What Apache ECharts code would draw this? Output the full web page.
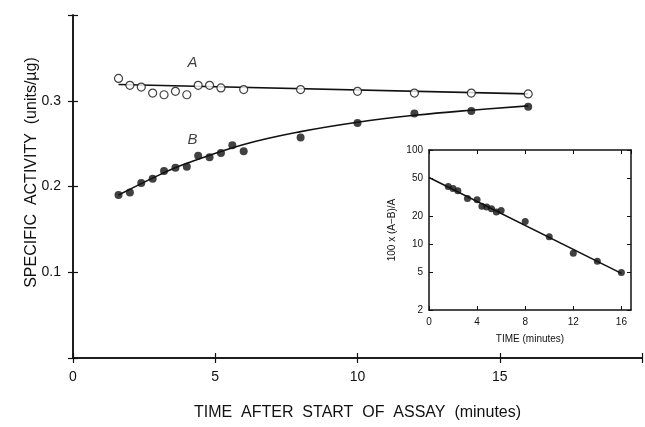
<!DOCTYPE html>
<html>
<head>
<meta charset="utf-8">
<script src="https://cdn.jsdelivr.net/npm/echarts@6/dist/echarts.min.js"></script>
<style>
  html, body { margin: 0; padding: 0; background: #fff; }
  #chart { width: 645px; height: 427px; }
</style>
</head>
<body>
<div id="chart"></div>
<script>
// main plot: specific activity (units/ug) vs time (min)
const timeA = [1.6, 2.0, 2.4, 2.8, 3.2, 3.6, 4.0, 4.4, 4.8, 5.2, 6.0, 8, 10, 12, 14, 16];
const activityA = [0.326, 0.318, 0.316, 0.309, 0.307, 0.311, 0.307, 0.318, 0.318, 0.315, 0.313, 0.313, 0.311, 0.309, 0.309, 0.308];
const timeB = [1.6, 2.0, 2.4, 2.8, 3.2, 3.6, 4.0, 4.4, 4.8, 5.2, 5.6, 6.0, 8, 10, 12, 14, 16];
const activityB = [0.190, 0.193, 0.204, 0.209, 0.218, 0.222, 0.223, 0.236, 0.234, 0.239, 0.248, 0.241, 0.257, 0.274, 0.285, 0.288, 0.293];

// drawn fit curves
const fitTimeA = [1.6, 16];
const fitA = [0.319, 0.308];
const fitTimeB = [1.6, 3, 4, 6, 8, 10, 12, 14, 16];
const fitB = [0.190, 0.213, 0.227, 0.249, 0.264, 0.275, 0.283, 0.289, 0.294];

// curve names
const curveNames = ["A", "B"];
const curveNameTime = [4.2, 4.2];
const curveNameY = [0.344, 0.255];

// inset: 100 x (A-B)/A, log scale
const insetTime = [1.6, 2.0, 2.4, 3.2, 4.0, 4.4, 4.8, 5.2, 5.6, 6.0, 8, 10, 12, 14, 16];
const insetPct = [41, 39, 37, 30.5, 29.7, 25.2, 24.8, 23.8, 21.9, 22.8, 17.4, 12, 8, 6.6, 5];
const insetFitTime = [0, 16];
const insetFit = [51, 4.9];
const insetYTicks = [2, 5, 10, 20, 50, 100];

const zip = (xs, ys) => xs.map((x, i) => [x, ys[i]]);

const FONT = "Liberation Sans";
const INK = "#111";
const line = { lineStyle: { color: INK, width: 1.5 } };
const mainTick = { inside: true, length: 5, lineStyle: { color: INK, width: 1.2 } };
const insetTick = { inside: true, length: 4, lineStyle: { color: INK } };

const chart = echarts.init(document.getElementById("chart"));
const logTicks = insetYTicks.map(v => Math.log10(v));

chart.setOption({
  animation: false,
  backgroundColor: "#fff",
  textStyle: { fontFamily: FONT, color: INK },
  grid: [
    { left: 73, top: 15, width: 574, height: 343 },
    { left: 429, top: 150, width: 202, height: 160 }
  ],
  xAxis: [
    {
      gridIndex: 0, type: "value", min: 0, max: 20, interval: 5,
      axisLine: line, splitLine: { show: false }, axisTick: mainTick,
      axisLabel: { fontSize: 14, color: INK, margin: 12, formatter: v => (v < 20 ? v : "") },
      name: "TIME  AFTER  START  OF  ASSAY  (minutes)",
      nameLocation: "middle", nameGap: 47, nameMoveOverlap: false,
      nameTextStyle: { fontSize: 16, color: INK }
    },
    {
      gridIndex: 0, type: "value", position: "top", min: 0, max: 20, interval: 5,
      axisLine: line, splitLine: { show: false }, axisTick: mainTick,
      axisLabel: { show: false }
    },
    {
      gridIndex: 1, type: "value", min: 0, max: 16.8, interval: 4,
      axisLine: line, splitLine: { show: false }, axisTick: insetTick,
      axisLabel: { fontSize: 10, color: INK, margin: 7, showMaxLabel: false },
      name: "TIME (minutes)", nameLocation: "middle", nameGap: 24, nameMoveOverlap: false,
      nameTextStyle: { fontSize: 10, color: INK }
    },
    {
      gridIndex: 1, type: "value", position: "top", min: 0, max: 16.8, interval: 4,
      axisLine: line, splitLine: { show: false }, axisTick: insetTick,
      axisLabel: { show: false }
    }
  ],
  yAxis: [
    {
      gridIndex: 0, type: "value", position: "left", min: 0, max: 0.4, interval: 0.1,
      axisLine: line, splitLine: { show: false }, axisTick: mainTick,
      axisLabel: { fontSize: 14, color: INK, margin: 12,
        formatter: v => (v > 0.05 && v < 0.35 ? v.toFixed(1) : "") },
      name: "SPECIFIC  ACTIVITY  (units/\u00b5g)", nameLocation: "middle", nameGap: 33, nameRotate: 90,
      nameMoveOverlap: false,
      nameTextStyle: { fontSize: 16, color: INK, padding: [0, 0, 0, 28] }
    },
    {
      gridIndex: 0, type: "value", position: "right", min: 0, max: 0.4, interval: 0.1,
      axisLine: line, splitLine: { show: false }, axisTick: mainTick,
      axisLabel: { show: false }
    },
    {
      // log axis that places the inset data
      gridIndex: 1, type: "log", logBase: 10, min: 2, max: 100, position: "left", show: false
    },
    {
      // tick/label overlay for the log axis
      gridIndex: 1, type: "value", position: "left", min: Math.log10(2), max: 2,
      axisLine: line, splitLine: { show: false },
      axisTick: Object.assign({ customValues: logTicks }, insetTick),
      axisLabel: { fontSize: 10, color: INK, margin: 6, customValues: logTicks,
        formatter: v => String(Math.round(Math.pow(10, v))) },
      name: "100 x (A\u2212B)/A", nameLocation: "middle", nameGap: 32, nameRotate: 90,
      nameMoveOverlap: false,
      nameTextStyle: { fontSize: 10, color: INK }
    },
    {
      gridIndex: 1, type: "value", position: "right", min: Math.log10(2), max: 2,
      axisLine: line, splitLine: { show: false },
      axisTick: Object.assign({ customValues: logTicks }, insetTick),
      axisLabel: { show: false }
    }
  ],
  series: [
    {
      type: "line", xAxisIndex: 0, yAxisIndex: 0, data: zip(fitTimeA, fitA),
      symbol: "none", lineStyle: { color: INK, width: 1.6 }, z: 2
    },
    {
      type: "line", xAxisIndex: 0, yAxisIndex: 0, data: zip(fitTimeB, fitB),
      symbol: "none", smooth: 0.4, lineStyle: { color: INK, width: 1.6 }, z: 2
    },
    {
      type: "scatter", xAxisIndex: 0, yAxisIndex: 0, data: zip(timeA, activityA),
      symbol: "circle", symbolSize: 8,
      itemStyle: { color: "#fff", borderColor: INK, borderWidth: 1.2 }, z: 3
    },
    {
      type: "scatter", xAxisIndex: 0, yAxisIndex: 0, data: zip(timeB, activityB),
      symbol: "circle", symbolSize: 8, itemStyle: { color: INK }, z: 3
    },
    {
      type: "scatter", xAxisIndex: 0, yAxisIndex: 0, symbolSize: 0, silent: true,
      data: curveNames.map((n, i) => ({ value: [curveNameTime[i], curveNameY[i]], name: n })),
      label: { show: true, position: "inside", formatter: p => p.name,
        fontSize: 15, fontStyle: "italic", color: INK }
    },
    {
      type: "line", xAxisIndex: 2, yAxisIndex: 2, data: zip(insetFitTime, insetFit),
      symbol: "none", lineStyle: { color: INK, width: 1.5 }, z: 2
    },
    {
      type: "scatter", xAxisIndex: 2, yAxisIndex: 2, data: zip(insetTime, insetPct),
      symbol: "circle", symbolSize: 7, itemStyle: { color: INK }, z: 3
    }
  ]
});
</script>
</body>
</html>
